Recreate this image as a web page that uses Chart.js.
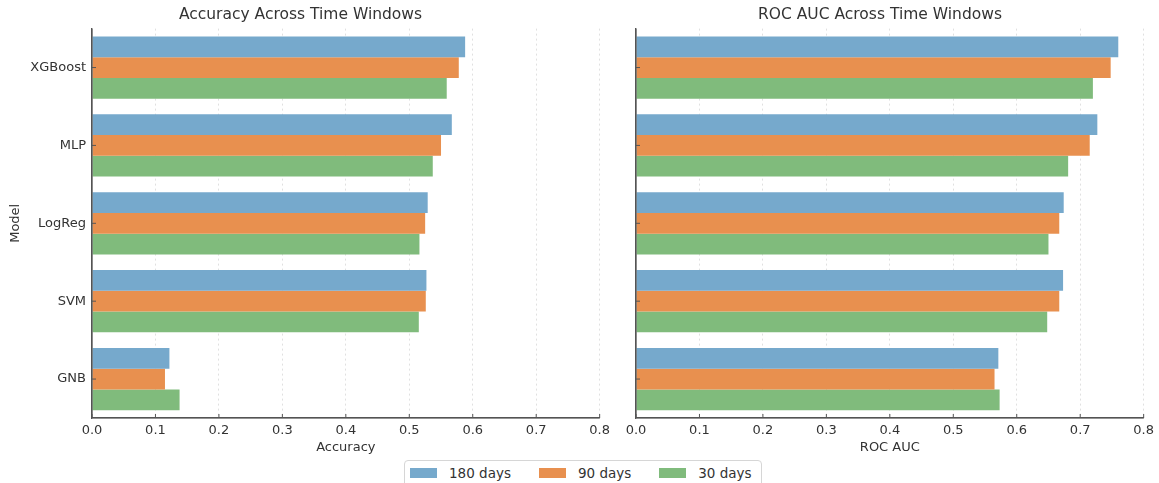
<!DOCTYPE html>
<html lang="en">
<head>
  <meta charset="UTF-8">
  <title>Accuracy and ROC AUC Across Time Windows</title>
  <script src="https://cdn.jsdelivr.net/npm/chart.js"></script>
  <style>
    * { margin: 0; padding: 0; box-sizing: border-box; }
    body { width: 1159px; height: 483px; background: #fff; overflow: hidden; position: relative; font-family: "DejaVu Sans", sans-serif; color: #333; }
    .panel { position: absolute; top: 0; height: 460px; }
    #left-panel { left: 0; width: 615px; }
    #right-panel { left: 615px; width: 544px; }
    #legend {
      position: absolute; left: 404px; top: 460px; width: 358px; height: 30px;
      border: 1px solid #d6d6d6; border-radius: 4px;
      display: flex; align-items: flex-start; padding: 4px 0 0 5px;
      font-size: 13.5px; color: #333; white-space: nowrap;
    }
    #legend .item { display: flex; align-items: center; margin-right: 28px; }
    #legend .swatch { width: 27px; height: 10px; margin-right: 12px; }
  </style>
</head>
<body>

  <div class="panel" id="left-panel"><canvas id="accChart"></canvas></div>
  <div class="panel" id="right-panel"><canvas id="aucChart"></canvas></div>
  <div id="legend"></div>

  <script>
    // Data
    const models = ['XGBoost', 'MLP', 'LogReg', 'SVM', 'GNB'];
    const windows = ['180 days', '90 days', '30 days'];
    const colors = ['#76a9cc', '#e8904f', '#80bb7c'];

    const acc180 = [0.588, 0.567, 0.529, 0.527, 0.122];
    const acc90  = [0.578, 0.550, 0.525, 0.526, 0.115];
    const acc30  = [0.559, 0.537, 0.516, 0.515, 0.138];

    const auc180 = [0.760, 0.727, 0.674, 0.673, 0.571];
    const auc90  = [0.748, 0.715, 0.667, 0.667, 0.565];
    const auc30  = [0.720, 0.681, 0.650, 0.648, 0.573];

    const xTicks = [0, 0.1, 0.2, 0.3, 0.4, 0.5, 0.6, 0.7, 0.8];

    const font = { family: '"DejaVu Sans", sans-serif', size: 13 };

    function makeChart(id, title, xLabel, series, showY) {
      const ctx = document.getElementById(id).getContext('2d');
      return new Chart(ctx, {
        type: 'bar',
        data: {
          labels: models,
          datasets: series.map((vals, i) => ({
            label: windows[i],
            data: vals,
            backgroundColor: colors[i],
            borderWidth: 0,
            barPercentage: 1.0,
            categoryPercentage: 0.8
          }))
        },
        options: {
          indexAxis: 'y',
          responsive: true,
          maintainAspectRatio: false,
          animation: false,
          layout: { padding: { left: 0, right: 14, top: 0, bottom: 0 } },
          plugins: {
            legend: { display: false },
            tooltip: { enabled: false },
            title: {
              display: true,
              text: title,
              color: '#333',
              font: { family: font.family, size: 15.5, weight: 'normal' },
              padding: { top: 6, bottom: 4 }
            }
          },
          scales: {
            x: {
              min: 0, max: 0.8,
              afterBuildTicks: (scale) => { scale.ticks = xTicks.map(v => ({ value: v })); },
              afterFit: (scale) => { scale.height = 42; },
              ticks: {
                color: '#333', font: font, padding: 5,
                callback: (v) => Number(v).toFixed(1)
              },
              grid: {
                color: (c) => c.tick && c.tick.value === 0 ? 'rgba(0,0,0,0)' : '#e0e0e0',
                lineWidth: 1,
                drawTicks: false
              },
              border: { display: true, color: '#555', width: 1.2, dash: [2, 3] },
              title: { display: true, text: xLabel, color: '#333', font: font, padding: { top: 0, bottom: 5 } }
            },
            y: {
              afterFit: (scale) => { scale.width = showY ? 92 : 21; },
              ticks: { display: showY, color: '#333', font: font, padding: 6 },
              grid: { display: false, drawTicks: false },
              border: { display: true, color: '#555', width: 1.2 },
              title: { display: showY, text: 'Model', color: '#333', font: font, padding: { top: 8, bottom: 2 } }
            }
          }
        },
        plugins: [{
          // solid spines and inward tick marks like the original
          id: 'spines',
          afterDraw(chart) {
            const a = chart.chartArea, c = chart.ctx;
            c.save();
            c.strokeStyle = '#555';
            c.lineWidth = 1.2;
            c.setLineDash([]);
            c.beginPath();
            c.moveTo(a.left, a.top);
            c.lineTo(a.left, a.bottom);
            c.lineTo(a.right, a.bottom);
            c.stroke();
            c.lineWidth = 1;
            chart.scales.y.ticks.forEach((t, i) => {
              const y = chart.scales.y.getPixelForTick(i);
              c.beginPath(); c.moveTo(a.left, y); c.lineTo(a.left + 4, y); c.stroke();
            });
            xTicks.forEach((v) => {
              const x = chart.scales.x.getPixelForValue(v);
              c.beginPath(); c.moveTo(x, a.bottom); c.lineTo(x, a.bottom - 4); c.stroke();
            });
            c.restore();
          }
        }]
      });
    }

    makeChart('accChart', 'Accuracy Across Time Windows', 'Accuracy', [acc180, acc90, acc30], true);
    makeChart('aucChart', 'ROC AUC Across Time Windows', 'ROC AUC', [auc180, auc90, auc30], false);

    // Shared legend
    document.getElementById('legend').innerHTML = windows.map((w, i) => `
      <div class="item"><span class="swatch" style="background:${colors[i]}"></span>${w}</div>
    `).join('');
  </script>

</body>
</html>
